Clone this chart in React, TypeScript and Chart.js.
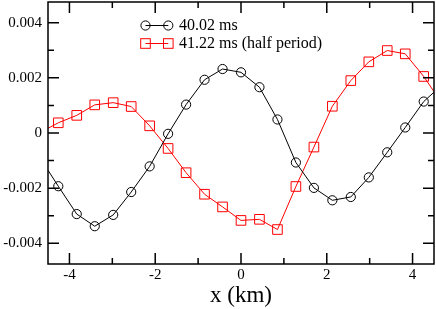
import React, { useEffect, useRef } from 'react';
import { Chart, registerables } from 'chart.js';

Chart.register(...registerables);

// x positions of the markers (km)
const xPositions = [-4.26, -3.83, -3.41, -2.98, -2.56, -2.13, -1.7, -1.28, -0.85, -0.43, 0, 0.43, 0.85, 1.28, 1.7, 2.13, 2.56, 2.98, 3.41, 3.83, 4.26];
// 40.02 ms series
const series40 = [-0.00193, -0.00294, -0.00338, -0.00297, -0.00214, -0.00121, -0.00003, 0.00103, 0.00193, 0.00232, 0.0022, 0.00166, 0.00049, -0.00107, -0.00199, -0.00244, -0.00232, -0.00161, -0.0007, 0.0002, 0.00114];
// 41.22 ms (half period) series
const series41 = [0.00037, 0.00064, 0.00102, 0.0011, 0.00096, 0.00026, -0.00056, -0.00144, -0.00222, -0.00268, -0.00317, -0.00313, -0.0035, -0.00194, -0.00051, 0.00097, 0.0019, 0.00258, 0.00299, 0.00287, 0.00205];
// line continues to the plot edges
const edgeX = [-4.5, 4.5];
const edge40 = [-0.00135, 0.00148];
const edge41 = [0.00017, 0.0015];

const xTicks = [-4, -2, 0, 2, 4];
const yTicks = [-0.004, -0.002, 0, 0.002, 0.004];
const xMinor = [-4, -3, -2, -1, 0, 1, 2, 3, 4];
const yMinor = [-0.004, -0.003, -0.002, -0.001, 0, 0.001, 0.002, 0.003, 0.004];
const legendLabels = ['40.02 ms', '41.22 ms (half period)'];
const xTitle = 'x (km)';

const FONT = '"Liberation Serif", "Times New Roman", serif';

function buildPoints(values: number[], edges: number[]) {
  return [
    { x: edgeX[0], y: edges[0] },
    ...xPositions.map((x, i) => ({ x, y: values[i] })),
    { x: edgeX[1], y: edges[1] },
  ];
}

const decor = {
  id: 'decor',
  afterDatasetsDraw(chart: any) {
    const { ctx, chartArea: a, scales } = chart;
    const xs = scales.x;
    const ys = scales.y;
    ctx.save();
    ctx.strokeStyle = '#000';
    ctx.lineWidth = 1.5;
    ctx.strokeRect(a.left, a.top, a.right - a.left, a.bottom - a.top);
    ctx.beginPath();
    xMinor.forEach((v) => {
      const px = xs.getPixelForValue(v);
      const len = xTicks.includes(v) ? 11 : 6;
      ctx.moveTo(px, a.bottom);
      ctx.lineTo(px, a.bottom - len);
      ctx.moveTo(px, a.top);
      ctx.lineTo(px, a.top + len);
    });
    yMinor.forEach((v) => {
      const py = ys.getPixelForValue(v);
      const major = yTicks.some((t) => Math.abs(t - v) < 1e-9);
      const len = major ? 11 : 6;
      ctx.moveTo(a.left, py);
      ctx.lineTo(a.left + len, py);
      ctx.moveTo(a.right, py);
      ctx.lineTo(a.right - len, py);
    });
    ctx.stroke();

    // legend
    const lx0 = 145.5;
    const lx1 = 168.3;
    const ly = [25.5, 43.5];
    ctx.lineWidth = 1;
    ctx.strokeStyle = '#000';
    ctx.beginPath();
    ctx.moveTo(lx0, ly[0]);
    ctx.lineTo(lx1, ly[0]);
    ctx.stroke();
    [lx0, lx1].forEach((cx) => {
      ctx.beginPath();
      ctx.arc(cx, ly[0], 4.6, 0, Math.PI * 2);
      ctx.stroke();
    });
    ctx.strokeStyle = '#ff0000';
    ctx.beginPath();
    ctx.moveTo(lx0, ly[1]);
    ctx.lineTo(lx1, ly[1]);
    ctx.stroke();
    [lx0, lx1].forEach((cx) => {
      ctx.strokeRect(cx - 4.8, ly[1] - 4.8, 9.6, 9.6);
    });
    ctx.fillStyle = '#000';
    ctx.font = '16px ' + FONT;
    ctx.textAlign = 'left';
    ctx.textBaseline = 'middle';
    ctx.fillText(legendLabels[0], 179, ly[0]);
    ctx.fillText(legendLabels[1], 179, ly[1]);

    // axis title
    ctx.font = '23px ' + FONT;
    ctx.textAlign = 'center';
    ctx.fillText(xTitle, (a.left + a.right) / 2, chart.height - 13);
    ctx.restore();
  },
};

export default function App() {
  const canvasRef = useRef<HTMLCanvasElement | null>(null);

  useEffect(() => {
    const canvas = canvasRef.current;
    if (!canvas) return;
    const chart = new Chart(canvas, {
      type: 'scatter',
      data: {
        datasets: [
          {
            label: legendLabels[0],
            data: buildPoints(series40, edge40),
            showLine: true,
            borderColor: '#000',
            borderWidth: 1,
            backgroundColor: 'rgba(0,0,0,0)',
            pointStyle: 'circle',
            pointRadius: (c: any) => (c.dataIndex === 0 || c.dataIndex === xPositions.length + 1 ? 0 : 4.6),
            pointBorderWidth: 1,
            pointBorderColor: '#000',
            pointBackgroundColor: 'rgba(0,0,0,0)',
            tension: 0,
          },
          {
            label: legendLabels[1],
            data: buildPoints(series41, edge41),
            showLine: true,
            borderColor: '#ff0000',
            borderWidth: 1,
            backgroundColor: 'rgba(0,0,0,0)',
            pointStyle: 'rect',
            pointRadius: (c: any) => (c.dataIndex === 0 || c.dataIndex === xPositions.length + 1 ? 0 : 6.8),
            pointBorderWidth: 1,
            pointBorderColor: '#ff0000',
            pointBackgroundColor: 'rgba(0,0,0,0)',
            tension: 0,
          },
        ],
      },
      options: {
        responsive: false,
        animation: false,
        devicePixelRatio: 1,
        layout: { padding: { top: 2, right: 2, left: 0, bottom: 0 } },
        plugins: {
          legend: { display: false },
          tooltip: { enabled: false },
        },
        scales: {
          x: {
            type: 'linear',
            min: -4.5,
            max: 4.5,
            grid: { display: false, drawTicks: false },
            border: { display: false },
            afterBuildTicks: (s: any) => {
              s.ticks = xTicks.map((v) => ({ value: v }));
            },
            afterFit: (s: any) => {
              s.height = 45;
              s.paddingLeft = 0;
              s.paddingRight = 0;
              s.paddingTop = 0;
              s.paddingBottom = 0;
            },
            ticks: {
              padding: 2,
              maxRotation: 0,
              autoSkip: false,
              color: '#000',
              font: { family: FONT, size: 15 },
              callback: (v: any) => String(v),
            },
          },
          y: {
            type: 'linear',
            min: -0.00475,
            max: 0.00475,
            grid: { display: false, drawTicks: false },
            border: { display: false },
            afterBuildTicks: (s: any) => {
              s.ticks = yTicks.map((v) => ({ value: v }));
            },
            afterFit: (s: any) => {
              s.width = 48;
              s.paddingLeft = 0;
              s.paddingRight = 0;
              s.paddingTop = 0;
              s.paddingBottom = 0;
            },
            ticks: {
              padding: 6,
              autoSkip: false,
              color: '#000',
              font: { family: FONT, size: 15 },
              callback: (v: any) => (Math.abs(v) < 1e-12 ? '0' : Number(v).toFixed(3)),
            },
          },
        },
      },
      plugins: [decor],
    } as any);
    return () => chart.destroy();
  }, []);

  return (
    <div style={{ position: 'absolute', left: 0, top: 0, width: 436, height: 309, background: '#fff' }}>
      <canvas ref={canvasRef} width={436} height={309} style={{ display: 'block', width: 436, height: 309 }} />
    </div>
  );
}
